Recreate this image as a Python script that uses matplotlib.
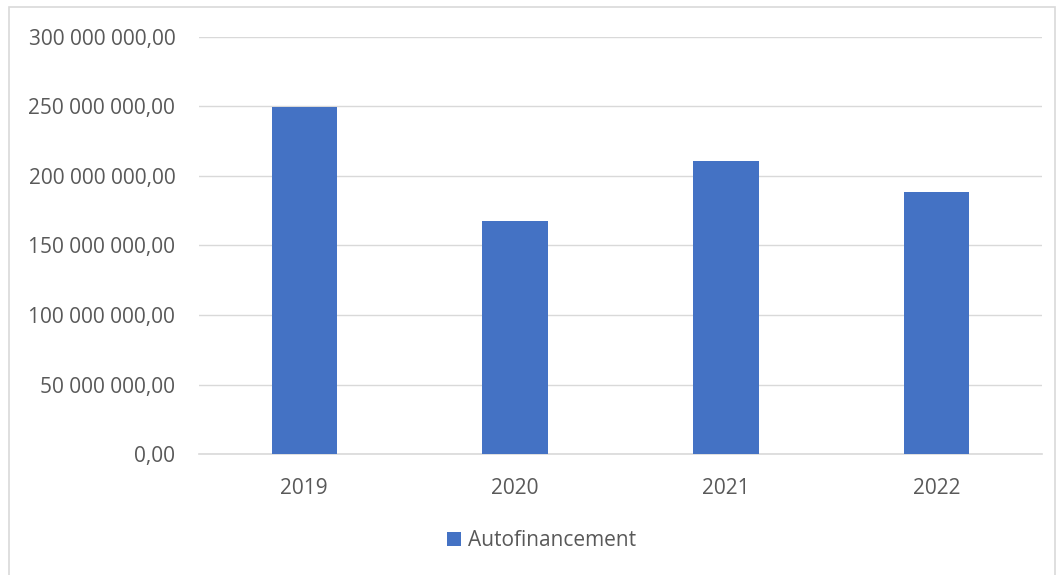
import matplotlib
matplotlib.use("Agg")
import matplotlib.pyplot as plt
from matplotlib.patches import Rectangle
from matplotlib.ticker import FuncFormatter

years = ["2019", "2020", "2021", "2022"]
autofinancement = [249.6e6, 167.6e6, 210.8e6, 188.5e6]
yticks = [0, 50e6, 100e6, 150e6, 200e6, 250e6, 300e6]

plt.rcParams['font.family'] = ['Open Sans', 'DejaVu Sans']
grey = '#595959'

def fr_fmt(v, pos):
    s = f"{v:,.2f}"
    return s.replace(",", " ").replace(".", ",")

fig = plt.figure(figsize=(10.58, 5.75), dpi=100)
ax = fig.add_axes([0.188, 0.2104, 0.797, 0.7253])

# chart frame
fig.patches.append(Rectangle((9 / 1058, -0.1), 1046 / 1058, 1.1 - 7 / 575,
                             transform=fig.transFigure, fill=False,
                             edgecolor='#d9d9d9', linewidth=1.2))

x = range(len(years))
ax.bar(x, autofinancement, width=0.31, color='#4472c4', label='Autofinancement', zorder=3)
ax.set_xlim(-0.5, len(years) - 0.5)
ax.set_ylim(0, 300e6)
ax.set_yticks(yticks)
ax.yaxis.set_major_formatter(FuncFormatter(fr_fmt))
ax.set_xticks(list(x))
ax.set_xticklabels(years)
ax.grid(axis='y', color='#d9d9d9', linewidth=1, zorder=0)
for s in ['top', 'right', 'left']:
    ax.spines[s].set_visible(False)
ax.spines['bottom'].set_color('#d9d9d9')
ax.spines['bottom'].set_linewidth(1.2)
ax.tick_params(axis='both', length=0, labelsize=15, colors=grey)
ax.tick_params(axis='y', pad=17)
ax.tick_params(axis='x', pad=17)

leg = fig.legend(loc='center', bbox_to_anchor=(0.512, 1 - 541 / 575), frameon=False,
                 fontsize=15, handlelength=0.65, handleheight=0.65, handletextpad=0.35)
for t in leg.get_texts():
    t.set_color(grey)

fig.savefig('out.png', dpi=100)
